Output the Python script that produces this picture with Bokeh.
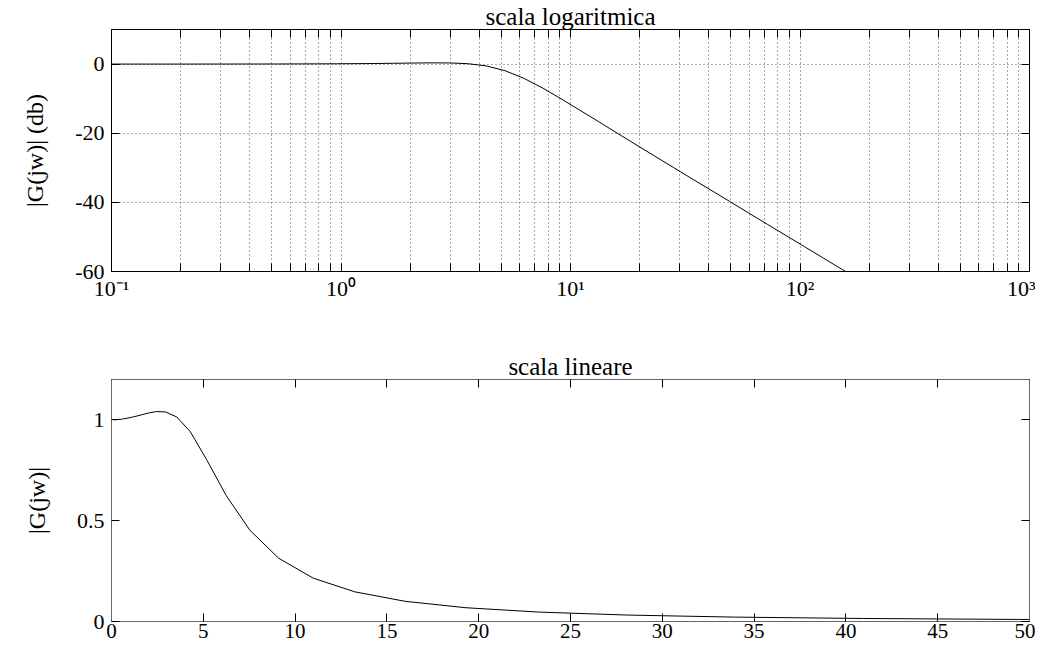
from bokeh.plotting import figure
from bokeh.models import FixedTicker, LogAxis, LinearAxis, NumeralTickFormatter
from bokeh.layouts import column
from bokeh.embed import file_html
from bokeh.resources import INLINE
import numpy as np

# ---- data (frequency in rad/s, magnitude |G(jw)|) ----
omega = [0.100, 0.121, 0.146, 0.176, 0.212, 0.256, 0.309, 0.373, 0.450, 0.543,
         0.655, 0.791, 0.954, 1.151, 1.390, 1.677, 2.024, 2.442, 2.947, 3.557,
         4.292, 5.180, 6.251, 7.543, 9.103, 10.985, 13.257, 15.999, 19.307, 23.300,
         28.118, 33.932, 40.949, 49.417, 59.636, 71.969, 86.851, 104.81, 126.49,
         152.64, 184.21, 222.30]
magnitude = [1.000, 1.000, 1.000, 1.000, 1.000, 1.001, 1.001, 1.002, 1.002, 1.003,
             1.005, 1.007, 1.010, 1.014, 1.019, 1.026, 1.034, 1.041, 1.039, 1.014,
             0.941, 0.803, 0.624, 0.452, 0.314, 0.215, 0.147, 0.100, 0.0682, 0.0466,
             0.0319, 0.0218, 0.0150, 0.0103, 0.00704, 0.00483, 0.00332, 0.00228, 0.00156,
             0.00107, 0.00074, 0.00051]
magnitude_db = [float(v) for v in 20 * np.log10(np.array(magnitude))]

log_ticks = [0.1, 1, 10, 100, 1000]
log_labels = {0.1: "10\u207b\u00b9", 1: "10\u2070", 10: "10\u00b9", 100: "10\u00b2", 1000: "10\u00b3"}
log_minor = [m * d for d in [0.1, 1, 10, 100] for m in range(2, 10)]
db_ticks = [-60, -40, -20, 0]
db_labels = {-60: "-60", -40: "-40", -20: "-20", 0: "0"}
lin_x_ticks = [0, 5, 10, 15, 20, 25, 30, 35, 40, 45, 50]
lin_y_ticks = [0, 0.5, 1]

FONT = "Liberation Serif"
TICK_FS = "22px"
LABEL_FS = "24px"
TITLE_FS = "25px"


def style_axis(ax, labels=True, color="black", standoff=7, size=TICK_FS):
    ax.axis_line_color = color
    ax.major_tick_in = 8
    ax.major_tick_out = 0
    ax.minor_tick_in = 8
    ax.minor_tick_out = 0
    ax.major_tick_line_color = "black"
    ax.minor_tick_line_color = "black"
    ax.major_label_text_font = FONT
    ax.axis_label_text_font = FONT
    ax.axis_label_text_font_style = "normal"
    ax.axis_label_text_font_size = LABEL_FS
    ax.axis_label_text_color = "black"
    if labels:
        ax.major_label_text_color = "black"
        ax.major_label_text_font_size = size
        ax.major_label_standoff = standoff
    else:
        ax.major_label_text_color = None
        ax.major_label_text_font_size = "1px"
        ax.major_label_standoff = 0


def style_title(p):
    p.title.text_font = FONT
    p.title.text_font_style = "normal"
    p.title.text_font_size = TITLE_FS
    p.title.text_color = "black"
    p.title.align = "center"
    p.title.standoff = 0


# ---------------- top: logarithmic scale ----------------
p1 = figure(frame_width=918, frame_height=242, x_axis_type="log",
            x_range=(0.1, 1000), y_range=(-60, 10),
            output_backend="svg", toolbar_location=None,
            title="scala logaritmica",
            min_border_left=111, min_border_right=6, min_border_top=28,
            min_border_bottom=57)
style_title(p1)
p1.outline_line_color = "black"
p1.background_fill_color = "white"
p1.border_fill_color = "white"

xt = FixedTicker(ticks=log_ticks, minor_ticks=log_minor)
yt1 = FixedTicker(ticks=db_ticks, minor_ticks=[])
p1.xaxis.ticker = xt
p1.xaxis.major_label_overrides = log_labels
p1.yaxis.ticker = yt1
p1.yaxis.major_label_overrides = db_labels
p1.yaxis.axis_label = "|G(jw)| (db)"
p1.yaxis.axis_label_standoff = 24
for ax in p1.yaxis:
    style_axis(ax)
for ax in p1.xaxis:
    style_axis(ax, standoff=4)

top_ax = LogAxis(ticker=xt)
style_axis(top_ax, labels=False)
p1.add_layout(top_ax, "above")
right_ax = LinearAxis(ticker=yt1)
style_axis(right_ax, labels=False)
p1.add_layout(right_ax, "right")

p1.xgrid.ticker = xt
p1.ygrid.ticker = yt1
for g in [p1.xgrid, p1.ygrid]:
    g.grid_line_color = "#555555"
    g.grid_line_dash = "1 3"
    g.grid_line_width = 1
p1.xgrid.minor_grid_line_color = "#555555"
p1.xgrid.minor_grid_line_dash = "1 3"
p1.xgrid.minor_grid_line_width = 1

p1.line(omega, magnitude_db, line_color="black", line_width=1)

# ---------------- bottom: linear scale ----------------
EDGE2 = "#666666"
p2 = figure(frame_width=918, frame_height=242,
            x_range=(0, 50), y_range=(0, 1.2),
            output_backend="svg", toolbar_location=None,
            title="scala lineare",
            min_border_left=111, min_border_right=6, min_border_top=51,
            min_border_bottom=30)
style_title(p2)
p2.outline_line_color = EDGE2
p2.background_fill_color = "white"
p2.border_fill_color = "white"
p2.xgrid.visible = False
p2.ygrid.visible = False

xt2 = FixedTicker(ticks=lin_x_ticks, minor_ticks=[])
yt2 = FixedTicker(ticks=lin_y_ticks, minor_ticks=[])
p2.xaxis.ticker = xt2
p2.yaxis.ticker = yt2
p2.yaxis.formatter = NumeralTickFormatter(format="0.[0]")
p2.yaxis.axis_label = "|G(jw)|"
p2.yaxis.axis_label_standoff = 24
for ax in p2.yaxis:
    style_axis(ax, color=EDGE2)
for ax in p2.xaxis:
    style_axis(ax, color=EDGE2, standoff=2, size="21px")

top_ax2 = LinearAxis(ticker=xt2)
style_axis(top_ax2, labels=False, color=EDGE2)
p2.add_layout(top_ax2, "above")
right_ax2 = LinearAxis(ticker=yt2)
style_axis(right_ax2, labels=False, color=EDGE2)
p2.add_layout(right_ax2, "right")

p2.line(omega, magnitude, line_color="black", line_width=1)

layout = column(p1, p2, spacing=0)
open("out.html", "w").write(file_html(layout, INLINE))
